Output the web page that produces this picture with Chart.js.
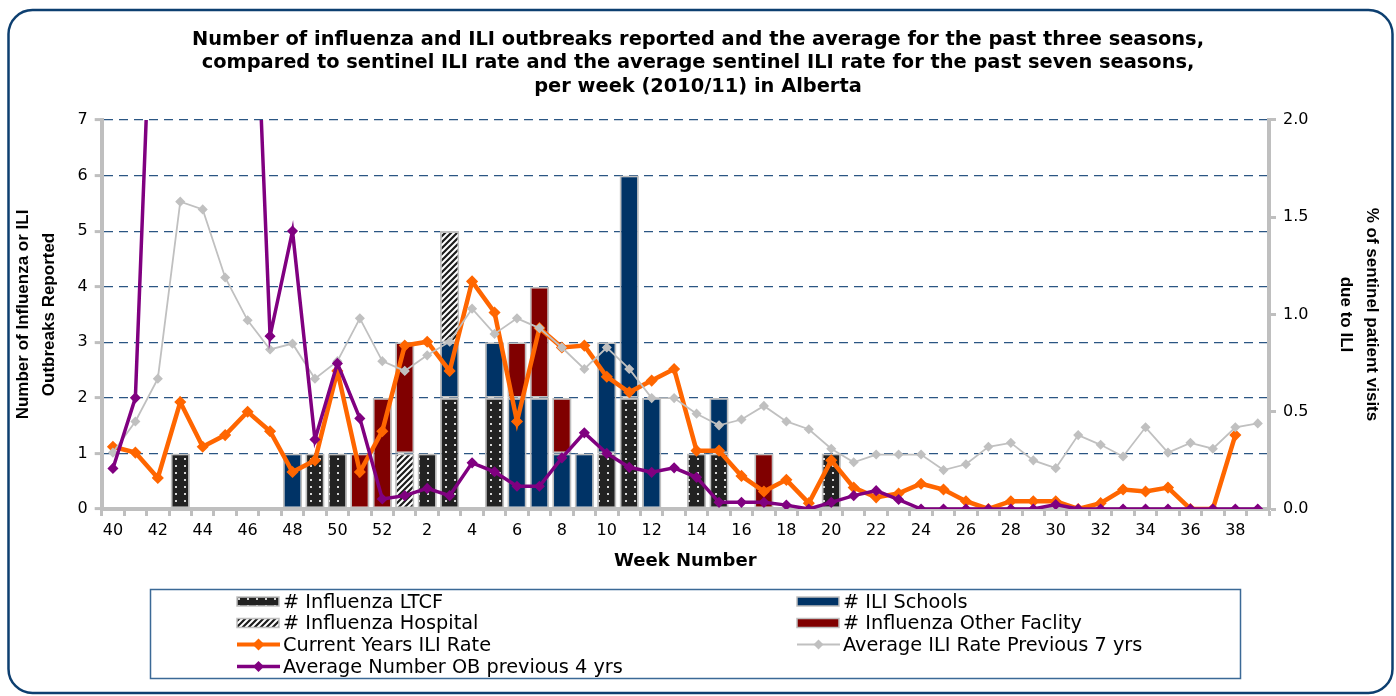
<!DOCTYPE html>
<html>
<head>
<meta charset="utf-8">
<title>Influenza and ILI outbreaks, Alberta 2010/11</title>
<script src="https://cdn.jsdelivr.net/npm/chart.js@4.4.0/dist/chart.umd.min.js"></script>
<style>
  html, body { margin: 0; padding: 0; background: #fff; }
  #wrap { width: 1396px; height: 696px; }
</style>
</head>
<body>
<div id="wrap"><canvas id="fluChart" width="1396" height="696"></canvas></div>
<script>
// week numbers, 2010 week 40 through 2011 week 39
const weeks = [40, 41, 42, 43, 44, 45, 46, 47, 48, 49, 50, 51, 52,
  1, 2, 3, 4, 5, 6, 7, 8, 9, 10, 11, 12, 13, 14, 15, 16, 17, 18, 19, 20,
  21, 22, 23, 24, 25, 26, 27, 28, 29, 30, 31, 32, 33, 34, 35, 36, 37, 38, 39];

// outbreak counts per week (stacked bars)
const ltcf = [0, 0, 0, 1, 0, 0, 0, 0, 0, 1, 1, 0, 0,
  0, 1, 2, 0, 2, 0, 0, 0, 0, 1, 2, 0, 0,
  1, 1, 0, 0, 0, 0, 1, 0, 0, 0, 0, 0, 0,
  0, 0, 0, 0, 0, 0, 0, 0, 0, 0, 0, 0, 0];
const schools = [0, 0, 0, 0, 0, 0, 0, 0, 1, 0, 0, 0, 0,
  0, 0, 1, 0, 1, 2, 2, 1, 1, 2, 4, 2, 0,
  0, 1, 0, 0, 0, 0, 0, 0, 0, 0, 0, 0, 0,
  0, 0, 0, 0, 0, 0, 0, 0, 0, 0, 0, 0, 0];
const hospital = [0, 0, 0, 0, 0, 0, 0, 0, 0, 0, 0, 0, 0,
  1, 0, 2, 0, 0, 0, 0, 0, 0, 0, 0, 0, 0,
  0, 0, 0, 0, 0, 0, 0, 0, 0, 0, 0, 0, 0,
  0, 0, 0, 0, 0, 0, 0, 0, 0, 0, 0, 0, 0];
const otherFacility = [0, 0, 0, 0, 0, 0, 0, 0, 0, 0, 0, 1, 2,
  2, 0, 0, 0, 0, 1, 2, 1, 0, 0, 0, 0, 0,
  0, 0, 0, 1, 0, 0, 0, 0, 0, 0, 0, 0, 0,
  0, 0, 0, 0, 0, 0, 0, 0, 0, 0, 0, 0, 0];

// sentinel ILI rate (%), right axis
const currentIli = [0.32, 0.29, 0.16, 0.55, 0.32, 0.38, 0.50, 0.40, 0.19, 0.25, 0.71, 0.19, 0.40,
  0.84, 0.86, 0.71, 1.17, 1.01, 0.45, 0.93, 0.83, 0.84, 0.68, 0.60, 0.66, 0.72,
  0.30, 0.30, 0.17, 0.09, 0.15, 0.03, 0.25, 0.11, 0.06, 0.08, 0.13, 0.10, 0.04,
  0.00, 0.04, 0.04, 0.04, 0.00, 0.03, 0.10, 0.09, 0.11, 0.00, 0.00, 0.38, null];
const avgIli7 = [0.29, 0.45, 0.67, 1.58, 1.54, 1.19, 0.97, 0.82, 0.85, 0.67, 0.76, 0.98, 0.76,
  0.71, 0.79, 0.86, 1.03, 0.90, 0.98, 0.93, 0.83, 0.72, 0.83, 0.72, 0.57, 0.57,
  0.49, 0.43, 0.46, 0.53, 0.45, 0.41, 0.31, 0.24, 0.28, 0.28, 0.28, 0.20, 0.23,
  0.32, 0.34, 0.25, 0.21, 0.38, 0.33, 0.27, 0.42, 0.29, 0.34, 0.31, 0.42, 0.44];

// average number of outbreaks, previous years (left axis, runs off the top in the fall)
const avgOutbreaks = [0.73, 2.0, 12.4, 17, 21, 18, 13.1, 3.11, 5.0, 1.25, 2.62, 1.63, 0.18,
  0.24, 0.37, 0.24, 0.83, 0.67, 0.41, 0.41, 0.92, 1.37, 1.0, 0.75, 0.66, 0.74,
  0.57, 0.12, 0.12, 0.12, 0.07, 0.0, 0.12, 0.24, 0.33, 0.17, 0, 0, 0,
  0, 0, 0, 0.08, 0, 0, 0, 0, 0, 0, 0, 0, 0];

const titleLines = [
  'Number of influenza and ILI outbreaks reported and the average for the past three seasons,',
  'compared to sentinel ILI rate and the average sentinel ILI rate for the past seven seasons,',
  'per week (2010/11) in Alberta'
];

const GREY = '#bfbfbf';
const NAVY_GRID = '#2b5683';

function makePattern(w, h, paint) {
  const tile = document.createElement('canvas');
  tile.width = w;
  tile.height = h;
  paint(tile.getContext('2d'));
  return document.createElement('canvas').getContext('2d').createPattern(tile, 'repeat');
}

// dark bars with light dots
const dotFill = makePattern(9, 7, g => {
  g.fillStyle = '#222222';
  g.fillRect(0, 0, 9, 7);
  g.fillStyle = '#d6d6d6';
  g.fillRect(4, 3, 2, 2);
});

// black / white diagonal hatching
const hatchFill = makePattern(6, 6, g => {
  g.fillStyle = '#ffffff';
  g.fillRect(0, 0, 6, 6);
  g.strokeStyle = '#1c1c1c';
  g.lineWidth = 2.2;
  g.beginPath();
  g.moveTo(0, 6); g.lineTo(6, 0);
  g.moveTo(-3, 3); g.lineTo(3, -3);
  g.moveTo(3, 9); g.lineTo(9, 3);
  g.stroke();
});

const nz = arr => arr.map(v => (v === 0 ? null : v));

function barSet(label, data, fill) {
  return {
    type: 'bar', label, data: nz(data), yAxisID: 'y',
    backgroundColor: fill, borderColor: GREY, borderWidth: 1.8, borderSkipped: false,
    barPercentage: 0.86, categoryPercentage: 1, order: 3
  };
}

function lineSet(label, data, axis, color, width, radius, order) {
  return {
    type: 'line', label, data, yAxisID: axis,
    borderColor: color, backgroundColor: color, borderWidth: width,
    pointStyle: 'rectRot', pointRadius: radius, pointHoverRadius: radius,
    pointBorderWidth: 1.5, pointBackgroundColor: color, pointBorderColor: color,
    tension: 0, spanGaps: false, order
  };
}

// legend swatch slots, in dataset order
const legendSlots = [[237, 601.5], [797, 601.5], [237, 623], [797, 623], [237, 644.5], [797, 644.5], [237, 666.5]];

const framePlugin = {
  id: 'frame',
  beforeDraw(chart) {
    const ctx = chart.ctx;
    ctx.save();
    ctx.fillStyle = '#fff';
    ctx.fillRect(0, 0, chart.width, chart.height);
    ctx.strokeStyle = '#0d3f70';
    ctx.lineWidth = 2.5;
    ctx.beginPath();
    ctx.roundRect(8.5, 10, 1384, 683, 24);
    ctx.stroke();
    ctx.restore();
  }
};

const legendPlugin = {
  id: 'boxLegend',
  afterDraw(chart) {
    const ctx = chart.ctx;
    ctx.save();
    ctx.strokeStyle = '#3b6996';
    ctx.lineWidth = 1.5;
    ctx.strokeRect(150.5, 589.5, 1090, 89);
    ctx.font = '19.3px "DejaVu Sans"';
    ctx.textBaseline = 'middle';
    chart.data.datasets.forEach((ds, i) => {
      const [x, y] = legendSlots[i];
      if (ds.type === 'line') {
        ctx.strokeStyle = ds.borderColor;
        ctx.lineWidth = Math.min(ds.borderWidth, 4);
        ctx.beginPath();
        ctx.moveTo(x, y);
        ctx.lineTo(x + 43, y);
        ctx.stroke();
        const r = ds.pointRadius + 1;
        ctx.fillStyle = ds.borderColor;
        ctx.beginPath();
        ctx.moveTo(x + 21.5 - r, y);
        ctx.lineTo(x + 21.5, y - r);
        ctx.lineTo(x + 21.5 + r, y);
        ctx.lineTo(x + 21.5, y + r);
        ctx.closePath();
        ctx.fill();
      } else {
        ctx.fillStyle = ds.backgroundColor;
        ctx.fillRect(x, y - 4.5, 42, 9);
        ctx.strokeStyle = GREY;
        ctx.lineWidth = 1.5;
        ctx.strokeRect(x, y - 4.5, 42, 9);
      }
      ctx.fillStyle = '#000';
      ctx.fillText(ds.label, x + 46, y + 1);
    });
    ctx.restore();
  }
};

const tickFont = { family: 'DejaVu Sans', size: 16 };

new Chart(document.getElementById('fluChart'), {
  data: {
    labels: weeks,
    datasets: [
      barSet('# Influenza LTCF', ltcf, dotFill),
      barSet('# ILI Schools', schools, '#003366'),
      barSet('# Influenza Hospital', hospital, hatchFill),
      barSet('# Influenza Other Faclity', otherFacility, '#800000'),
      lineSet('Current Years ILI Rate', currentIli, 'y1', '#ff6600', 4.5, 5, 2),
      lineSet('Average ILI Rate Previous 7 yrs', avgIli7, 'y1', '#c0c0c0', 1.8, 4, 1),
      lineSet('Average Number OB previous 4 yrs', avgOutbreaks, 'y', '#800080', 3.5, 4.5, 0)
    ]
  },
  options: {
    responsive: false,
    animation: false,
    devicePixelRatio: 1,
    layout: { padding: { top: 0, left: 10, right: 10, bottom: 124 } },
    plugins: {
      legend: { display: false },
      tooltip: { enabled: false },
      title: {
        display: true,
        text: titleLines,
        color: '#000',
        font: { family: 'DejaVu Sans', size: 19.4, weight: 'bold', lineHeight: 1.2 },
        padding: { top: 28.5, bottom: 21.6 }
      }
    },
    scales: {
      x: {
        stacked: true,
        offset: true,
        ticks: {
          autoSkip: false, maxRotation: 0, padding: 5, color: '#000', font: tickFont,
          callback: (v, i) => (i % 2 === 0 ? weeks[i] : '')
        },
        grid: { offset: true, drawOnChartArea: false, tickColor: GREY, tickWidth: 3, tickLength: 7 },
        border: { color: GREY, width: 4 },
        title: {
          display: true, text: 'Week Number', color: '#000',
          font: { family: 'DejaVu Sans', size: 18, weight: 'bold' },
          padding: { top: 0, bottom: 0 }
        },
        afterFit: s => { s.height = 63; }
      },
      y: {
        position: 'left',
        stacked: true,
        min: 0,
        max: 7,
        ticks: { stepSize: 1, padding: 7, color: '#000', font: tickFont },
        grid: {
          color: c => (c.tick && c.tick.value === 0 ? 'rgba(0,0,0,0)' : NAVY_GRID),
          lineWidth: 1.2, tickColor: GREY, tickWidth: 3, tickLength: 7
        },
        border: { color: GREY, width: 4, dash: [9, 6] },
        title: {
          display: true, text: ['Number of Influenza or ILI', 'Outbreaks Reported'], color: '#000',
          font: { family: 'Liberation Sans', size: 17, weight: 'bold', lineHeight: 1.5 },
          padding: { top: 1, bottom: 0 }
        },
        afterFit: s => { s.width = 91.7; }
      },
      y1: {
        position: 'right',
        min: 0,
        max: 2,
        ticks: { stepSize: 0.5, padding: 7, color: '#000', font: tickFont, callback: v => v.toFixed(1) },
        grid: { drawOnChartArea: false, tickColor: GREY, tickWidth: 3, tickLength: 7 },
        border: { color: GREY, width: 4 },
        title: {
          display: true, text: ['% of sentinel patient visits', 'due to ILI'], color: '#000',
          font: { family: 'Liberation Sans', size: 17, weight: 'bold', lineHeight: 1.55 },
          padding: { top: 1, bottom: 0 }
        },
        afterFit: s => { s.width = 117; }
      }
    }
  },
  plugins: [framePlugin, legendPlugin]
});
</script>
</body>
</html>
